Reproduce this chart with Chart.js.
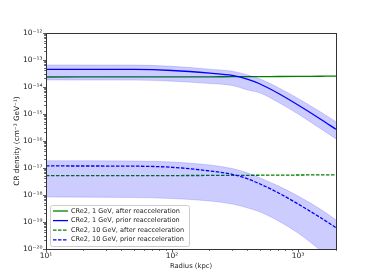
<html>
<head>
<style>
  body { margin: 0; background: #fff; }
</style>
</head>
<body>
<canvas id="crChart" width="374" height="280"></canvas>
<script src="https://cdn.jsdelivr.net/npm/chart.js@4.4.0/dist/chart.umd.min.js"></script>
<script>
const radius = [10, 50, 100, 200, 300, 400, 500, 700, 1000, 1500, 2000];

// CRe2, 1 GeV
const after1 = [2.35e-14, 2.36e-14, 2.37e-14, 2.39e-14, 2.41e-14, 2.42e-14, 2.43e-14, 2.45e-14, 2.47e-14, 2.5e-14, 2.52e-14];
const prior1 = [4.53e-14, 4.47e-14, 4.08e-14, 3.24e-14, 2.67e-14, 1.90e-14, 1.29e-14, 5.74e-15, 2.15e-15, 6.53e-16, 2.71e-16];
const prior1Hi = [6.53e-14, 6.47e-14, 5.84e-14, 4.56e-14, 3.85e-14, 2.78e-14, 1.98e-14, 9.42e-15, 3.75e-15, 1.21e-15, 5.19e-16];
const prior1Lo = [1.82e-14, 1.80e-14, 1.64e-14, 1.35e-14, 1.14e-14, 7.74e-15, 6.0e-15, 2.67e-15, 1.0e-15, 2.9e-16, 1.19e-16];

// CRe2, 10 GeV
const after10 = [5.2e-18, 5.2e-18, 5.25e-18, 5.3e-18, 5.35e-18, 5.37e-18, 5.4e-18, 5.45e-18, 5.5e-18, 5.55e-18, 5.6e-18];
const prior10 = [1.19e-17, 1.17e-17, 1.06e-17, 7.74e-18, 5.85e-18, 3.92e-18, 2.55e-18, 1.19e-18, 4.64e-19, 1.47e-19, 6.15e-20];
const prior10Hi = [1.86e-17, 1.82e-17, 1.67e-17, 1.29e-17, 9.58e-18, 6.53e-18, 4.27e-18, 2.15e-18, 9.18e-19, 3.03e-19, 1.19e-19];
const prior10Lo = [8.43e-19, 8.08e-19, 7.41e-19, 6.0e-19, 4.64e-19, 3.3e-19, 2.35e-19, 1.09e-19, 3.92e-20, 9.18e-21, 3.3e-21];

const legendLabels = [
  "CRe2, 1 GeV, after reacceleration",
  "CRe2, 1 GeV, prior reacceleration",
  "CRe2, 10 GeV, after reacceleration",
  "CRe2, 10 GeV, prior reacceleration"
];

// axis decades (exponents) and tick marks
const xDecades = [1, 2, 3];
const yDecades = [-20, -19, -18, -17, -16, -15, -14, -13, -12];
const xMin = 10, xMax = 2000;

const supMap = { "0": "\u2070", "1": "\u00b9", "2": "\u00b2", "3": "\u00b3", "4": "\u2074",
  "5": "\u2075", "6": "\u2076", "7": "\u2077", "8": "\u2078", "9": "\u2079", "-": "\u207b" };
function powLabel(e) {
  return "10" + String(e).split("").map(c => supMap[c]).join("");
}
function isDecade(v) {
  const l = Math.log10(v);
  return Math.abs(l - Math.round(l)) < 1e-6;
}
function logTicks(decades, lo, hi) {
  const out = [];
  for (const e of decades) {
    for (let m = 1; m <= 9; m++) {
      const v = m * Math.pow(10, e);
      if (v >= lo * 0.999 && v <= hi * 1.001) out.push({ value: v, major: m === 1 });
    }
  }
  return out;
}
const pts = arr => radius.map((r, i) => ({ x: r, y: arr[i] }));

const BAND = "rgba(0,0,255,0.2)";
const FONT = "'DejaVu Sans', sans-serif";

Chart.defaults.font.family = FONT;
Chart.defaults.color = "#222";

// matplotlib-like frame + legend in the lower left corner
const frameAndLegend = {
  id: "frameAndLegend",
  afterDraw(chart) {
    const { ctx, chartArea } = chart;
    ctx.save();
    ctx.strokeStyle = "#333";
    ctx.lineWidth = 1;
    ctx.strokeRect(chartArea.left + 0.5, chartArea.top + 0.5,
      chartArea.right - chartArea.left, chartArea.bottom - chartArea.top);

    const items = chart.data.datasets.filter(d => d.legendRow !== undefined)
      .sort((a, b) => a.legendRow - b.legendRow);
    ctx.font = "6.5px " + FONT;
    const textW = Math.max(...items.map(d => ctx.measureText(d.label).width));
    const rowH = 9.6;
    const h = rowH * items.length + 2.6;
    const w = 21 + textW + 5;
    const x0 = chartArea.left + 4;
    const y0 = chartArea.bottom - 3 - h;
    ctx.beginPath();
    ctx.roundRect(x0 + 0.5, y0 + 0.5, w, h, 2);
    ctx.fillStyle = "rgba(255,255,255,0.8)";
    ctx.fill();
    ctx.strokeStyle = "#cccccc";
    ctx.stroke();
    items.forEach((d, i) => {
      const cy = y0 + 6 + i * rowH;
      ctx.beginPath();
      ctx.setLineDash(d.borderDash || []);
      ctx.strokeStyle = d.borderColor;
      ctx.lineWidth = d.borderWidth;
      ctx.moveTo(x0 + 3, cy);
      ctx.lineTo(x0 + 18, cy);
      ctx.stroke();
      ctx.setLineDash([]);
      ctx.fillStyle = "#222";
      ctx.textBaseline = "middle";
      ctx.textAlign = "left";
      ctx.fillText(d.label, x0 + 21, cy);
    });
    ctx.restore();
  }
};

const lineDefaults = { pointRadius: 0, fill: false, cubicInterpolationMode: "monotone", borderWidth: 1.3 };

new Chart(document.getElementById("crChart"), {
  type: "line",
  data: {
    datasets: [
      { ...lineDefaults, label: legendLabels[0], legendRow: 0, data: pts(after1), borderColor: "green", order: 2 },
      { ...lineDefaults, label: legendLabels[1], legendRow: 1, data: pts(prior1), borderColor: "blue", order: 0 },
      { ...lineDefaults, label: legendLabels[2], legendRow: 2, data: pts(after10), borderColor: "green", borderDash: [3.5, 1.5], order: 2 },
      { ...lineDefaults, label: legendLabels[3], legendRow: 3, data: pts(prior10), borderColor: "blue", borderDash: [3.5, 1.5], order: 0 },
      { ...lineDefaults, label: "band 1 GeV hi", data: pts(prior1Hi), borderColor: BAND, borderWidth: 0.8, backgroundColor: BAND, fill: "+1", order: 1 },
      { ...lineDefaults, label: "band 1 GeV lo", data: pts(prior1Lo), borderColor: BAND, borderWidth: 0.8, order: 1 },
      { ...lineDefaults, label: "band 10 GeV hi", data: pts(prior10Hi), borderColor: BAND, borderWidth: 0.8, backgroundColor: BAND, fill: "+1", order: 1 },
      { ...lineDefaults, label: "band 10 GeV lo", data: pts(prior10Lo), borderColor: BAND, borderWidth: 0.8, order: 1 }
    ]
  },
  options: {
    responsive: false,
    animation: false,
    layout: { padding: { left: 0, top: 33, right: 38, bottom: 0 } },
    plugins: { legend: { display: false }, tooltip: { enabled: false } },
    scales: {
      x: {
        type: "logarithmic",
        min: xMin,
        max: xMax,
        afterBuildTicks: s => { s.ticks = logTicks(xDecades, xMin, xMax); },
        afterFit: s => { s.height = 31; },
        border: { display: false },
        grid: {
          drawOnChartArea: false,
          tickLength: 3,
          tickColor: "#333",
          tickWidth: 0.8,
          tickBorderDash: c => (c.tick && c.tick.major ? [] : [1.8, 10])
        },
        ticks: {
          autoSkip: false,
          maxRotation: 0,
          padding: 0,
          font: { size: 7.5 },
          callback: v => (isDecade(v) ? powLabel(Math.round(Math.log10(v))) : "")
        },
        title: { display: true, text: "Radius (kpc)", font: { size: 6.8 }, padding: { top: 0, bottom: 9.9 } }
      },
      y: {
        type: "logarithmic",
        min: Math.pow(10, yDecades[0]),
        max: Math.pow(10, yDecades[yDecades.length - 1]),
        afterBuildTicks: s => { s.ticks = logTicks(yDecades, s.min, s.max); },
        afterFit: s => { s.width = 46; },
        border: { display: false },
        grid: {
          drawOnChartArea: false,
          tickLength: 3,
          tickColor: "#333",
          tickWidth: 0.8,
          tickBorderDash: c => (c.tick && c.tick.major ? [] : [0, 1.2, 1.8, 10])
        },
        ticks: {
          autoSkip: false,
          padding: 0.5,
          font: { size: 7.5 },
          callback: v => (isDecade(v) ? powLabel(Math.round(Math.log10(v))) : "")
        },
        title: { display: true, text: "CR density (cm\u207b\u00b3 GeV\u207b\u00b9)", font: { size: 7.3 }, padding: { top: 12.6, bottom: 0 } }
      }
    }
  },
  plugins: [frameAndLegend]
});
</script>
</body>
</html>
